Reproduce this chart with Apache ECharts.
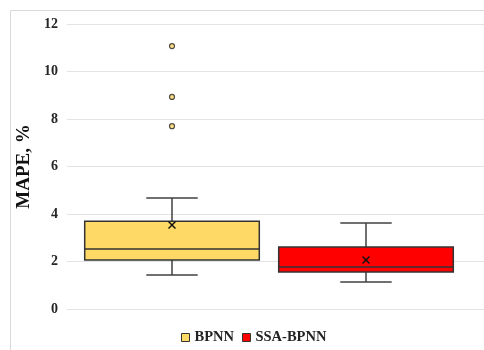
<!DOCTYPE html>
<html><head><meta charset="utf-8">
<script src="https://cdn.jsdelivr.net/npm/echarts@6/dist/echarts.min.js"></script>
<style>html,body{margin:0;padding:0;background:#fff}#c{width:484px;height:350px}</style>
</head><body><div id="c"></div>
<script>
const categories = ['BPNN', 'SSA-BPNN'];
const lowerWhisker = [1.43, 1.14];
const q1 = [2.06, 1.56];
const median = [2.53, 1.77];
const q3 = [3.70, 2.61];
const upperWhisker = [4.67, 3.62];
const meanValues = [3.54, 2.06];
const bpnnOutliers = [11.07, 8.93, 7.70];
const yTicks = [0, 2, 4, 6, 8, 10, 12];

const fills = ['#FFD966', '#FF0000'];
const edge = '#333333';

function renderBox(params, api) {
  const idx = api.value(0);
  const c = api.coord([idx, api.value(3)]);
  const band = api.size([1, 0])[0];
  const bw = band * 0.9, cw = band * 0.265;
  const x = c[0];
  const yLow = api.coord([idx, api.value(1)])[1];
  const yQ1 = api.coord([idx, api.value(2)])[1];
  const yMed = api.coord([idx, api.value(3)])[1];
  const yQ3 = api.coord([idx, api.value(4)])[1];
  const yHigh = api.coord([idx, api.value(5)])[1];
  const yMean = api.coord([idx, api.value(6)])[1];
  const line = {stroke: '#404040', lineWidth: 1.5};
  const m = 3.5;
  return {type: 'group', children: [
    {type: 'line', shape: {x1: x, y1: yQ3, x2: x, y2: yHigh}, style: line},
    {type: 'line', shape: {x1: x, y1: yQ1, x2: x, y2: yLow}, style: line},
    {type: 'line', shape: {x1: x - cw / 2, y1: yHigh, x2: x + cw / 2, y2: yHigh}, style: line},
    {type: 'line', shape: {x1: x - cw / 2, y1: yLow, x2: x + cw / 2, y2: yLow}, style: line},
    {type: 'rect', shape: {x: x - bw / 2, y: yQ3, width: bw, height: yQ1 - yQ3},
      style: {fill: fills[idx], stroke: edge, lineWidth: 1.5}},
    {type: 'line', shape: {x1: x - bw / 2, y1: yMed, x2: x + bw / 2, y2: yMed}, style: {stroke: edge, lineWidth: 1.5}},
    {type: 'line', shape: {x1: x - m, y1: yMean - m, x2: x + m, y2: yMean + m}, style: {stroke: '#111', lineWidth: 1.5}},
    {type: 'line', shape: {x1: x - m, y1: yMean + m, x2: x + m, y2: yMean - m}, style: {stroke: '#111', lineWidth: 1.5}}
  ]};
}

function boxData(i) {
  return [[i, lowerWhisker[i], q1[i], median[i], q3[i], upperWhisker[i], meanValues[i]]];
}

const font = 'Liberation Serif';
const chart = echarts.init(document.getElementById('c'));
chart.setOption({
  animation: false,
  graphic: [{type: 'rect', shape: {x: 10.5, y: 10.5, width: 600, height: 500},
    style: {fill: 'none', stroke: '#d9d9d9', lineWidth: 1}, silent: true}],
  grid: [
    {left: 67, right: 0, top: 24, bottom: 41},
    {left: 75, right: 21, top: 24, bottom: 41}
  ],
  xAxis: [
    {gridIndex: 0, type: 'value', min: 0, max: 1, show: false},
    {gridIndex: 1, type: 'category', data: categories, show: false}
  ],
  yAxis: [
    {gridIndex: 0, type: 'value', min: yTicks[0], max: yTicks[yTicks.length - 1], interval: 2,
      name: 'MAPE, %', nameLocation: 'middle', nameGap: 31,
      nameTextStyle: {fontFamily: font, fontWeight: 'bold', fontSize: 19, color: '#111'},
      axisLine: {show: false}, axisTick: {show: false},
      axisLabel: {fontFamily: font, fontWeight: 'bold', fontSize: 14, color: '#262626', margin: 9},
      splitLine: {lineStyle: {color: '#e3e3e3', width: 1}}},
    {gridIndex: 1, type: 'value', min: 0, max: 12, interval: 2, show: false, splitLine: {show: false}}
  ],
  legend: {
    bottom: 0, left: 176, itemWidth: 8, itemHeight: 8, itemGap: 8,
    textStyle: {fontFamily: font, fontWeight: 'bold', fontSize: 14.5, color: '#222'},
    data: categories.map((n, i) => ({name: n, icon: 'rect',
      itemStyle: {color: fills[i], borderColor: edge, borderWidth: 1}}))
  },
  series: [
    {name: categories[0], type: 'custom', xAxisIndex: 1, yAxisIndex: 1, renderItem: renderBox,
      itemStyle: {color: fills[0]}, encode: {x: 0, y: [1, 5]}, data: boxData(0), z: 2},
    {name: categories[1], type: 'custom', xAxisIndex: 1, yAxisIndex: 1, renderItem: renderBox,
      itemStyle: {color: fills[1]}, encode: {x: 0, y: [1, 5]}, data: boxData(1), z: 2},
    {name: 'outliers', type: 'scatter', xAxisIndex: 1, yAxisIndex: 1, symbol: 'circle', symbolSize: 5,
      itemStyle: {color: '#FFD966', borderColor: '#222', borderWidth: 1.2},
      data: bpnnOutliers.map(v => [0, v]), z: 3}
  ]
});
</script></body></html>
